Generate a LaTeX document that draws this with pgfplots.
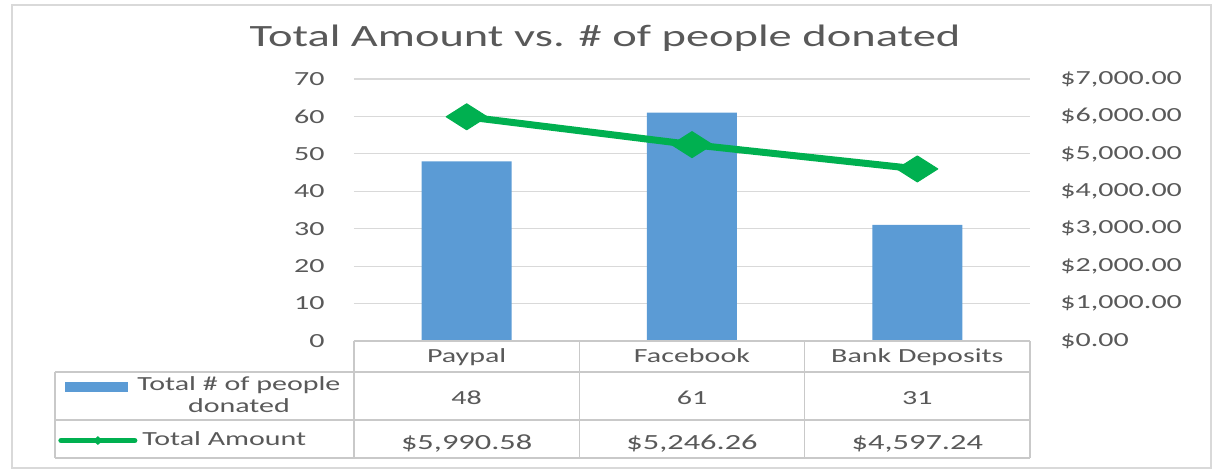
\documentclass[border=0pt]{standalone}
\usepackage{pgfplots}
\pgfplotsset{compat=1.18}
\usepackage{fontspec}
\setmainfont{Carlito}[FakeStretch=1.5]
\definecolor{barblue}{HTML}{5B9BD5}
\definecolor{linegreen}{HTML}{00B050}
\definecolor{txt}{HTML}{595959}
\definecolor{gridgray}{HTML}{D9D9D9}
\definecolor{tablegray}{HTML}{C9C9C9}
\newcommand{\tf}{\fontsize{10}{11}\selectfont}
\begin{document}
\begin{tikzpicture}
\useasboundingbox (-177pt,-66.5pt) rectangle (431pt,170.5pt);
\draw[gridgray, line width=0.6pt] (-171pt,-63.5pt) rectangle (428.5pt,168pt);
\begin{axis}[
  at={(0pt,0pt)}, anchor=south west,
  scale only axis, width=338pt, height=131pt,
  xmin=-0.5, xmax=2.5, ymin=0, ymax=70,
  axis x line*=bottom, axis y line*=left,
  x axis line style={tablegray, line width=0.6pt},
  y axis line style={draw=none},
  xtick={0,1,2}, xticklabels={Paypal,Facebook,Bank Deposits},
  ytick={0,10,...,70},
  major tick length=0pt,
  ymajorgrids, grid style={gridgray, line width=0.6pt},
  tick label style={font=\tf, text=txt},
  xticklabel style={anchor=base, inner sep=0pt, yshift=-11pt},
  yticklabel style={anchor=east, inner sep=0pt, xshift=-14.5pt},
  /pgf/number format/assume math mode=true,
  title={Total Amount vs. \# of people donated},
  title style={at={(0.3713,1.1298)}, anchor=base, yshift=-7pt, font=\fontsize{15.5}{18}\selectfont, text=txt, inner sep=0pt},
  legend style={at={(-0.4275,-0.2099)}, anchor=west, draw=none, fill=none, inner sep=0pt,
    font=\tf, text=txt, cells={align=center}, nodes={inner sep=0pt}, column sep=4.5pt},
  legend cell align=left,
  clip=false,
]
\addplot[ybar, fill=barblue, draw=none, bar width=45pt,
  legend image code/.code={\path[fill=barblue, draw=none] (0pt,2pt) rectangle (31.5pt,7pt); \path[draw=none, fill=none] (0pt,-7pt) rectangle (0.1pt,7pt);}]
  coordinates {(0,48) (1,61) (2,31)};
\addlegendentry{Total \# of people\\donated}
\end{axis}
\begin{axis}[
  at={(0pt,0pt)}, anchor=south west,
  scale only axis, width=338pt, height=131pt,
  xmin=-0.5, xmax=2.5, ymin=0, ymax=7000,
  axis x line=none, axis y line*=right,
  y axis line style={draw=none},
  ytick={0,1000,...,7000},
  yticklabels={\$0.00,\$1{,}000.00,\$2{,}000.00,\$3{,}000.00,\$4{,}000.00,\$5{,}000.00,\$6{,}000.00,\$7{,}000.00},
  major tick length=0pt,
  tick label style={font=\tf, text=txt},
  yticklabel style={anchor=west, inner sep=0pt, xshift=15pt},
  legend style={at={(-0.4379,-0.380)}, anchor=west, draw=none, fill=none, inner sep=0pt,
    font=\tf, text=txt, nodes={inner sep=0pt}, column sep=2.5pt},
  legend cell align=left,
  clip=false,
]
\addplot[linegreen, line width=3.5pt, line join=round, mark=diamond*,
  mark size=6.5pt, mark options={solid, fill=linegreen, draw=linegreen, line width=0.5pt, xscale=2.1},
  legend image code/.code={\path[draw=linegreen, line width=2.5pt, line cap=round] (0pt,0pt) -- (37pt,0pt);
    \path[fill=linegreen, draw=none] (18.5pt,2.2pt) -- (21pt,0pt) -- (18.5pt,-2.2pt) -- (16pt,0pt) -- cycle;}]
  coordinates {(0,5990.58) (1,5246.26) (2,4597.24)};
\addlegendentry{Total Amount}
\end{axis}
% data table grid
\begin{scope}[tablegray, line width=0.6pt]
\draw (0pt,0pt) -- (338pt,0pt);
\draw (-149.5pt,-15.5pt) -- (338pt,-15.5pt);
\draw (-149.5pt,-39.5pt) -- (338pt,-39.5pt);
\draw (-149.5pt,-58.5pt) -- (338pt,-58.5pt);
\draw (-149.5pt,-15.5pt) -- (-149.5pt,-58.5pt);
\draw (0pt,0pt) -- (0pt,-58.5pt);
\draw (112.67pt,0pt) -- (112.67pt,-58.5pt);
\draw (225.33pt,0pt) -- (225.33pt,-58.5pt);
\draw (338pt,0pt) -- (338pt,-58.5pt);
\end{scope}
\begin{scope}[every node/.style={anchor=base, text=txt, inner sep=0pt}]
\node[font=\tf] at (56.33pt,-32pt) {48};
\node[font=\tf] at (169pt,-32pt) {61};
\node[font=\tf] at (281.67pt,-32pt) {31};
\node[font=\fontsize{10.8}{12}\selectfont] at (56.33pt,-54.5pt) {\$5,990.58};
\node[font=\fontsize{10.8}{12}\selectfont] at (169pt,-54.5pt) {\$5,246.26};
\node[font=\fontsize{10.8}{12}\selectfont] at (281.67pt,-54.5pt) {\$4,597.24};
\end{scope}
\end{tikzpicture}
\end{document}
